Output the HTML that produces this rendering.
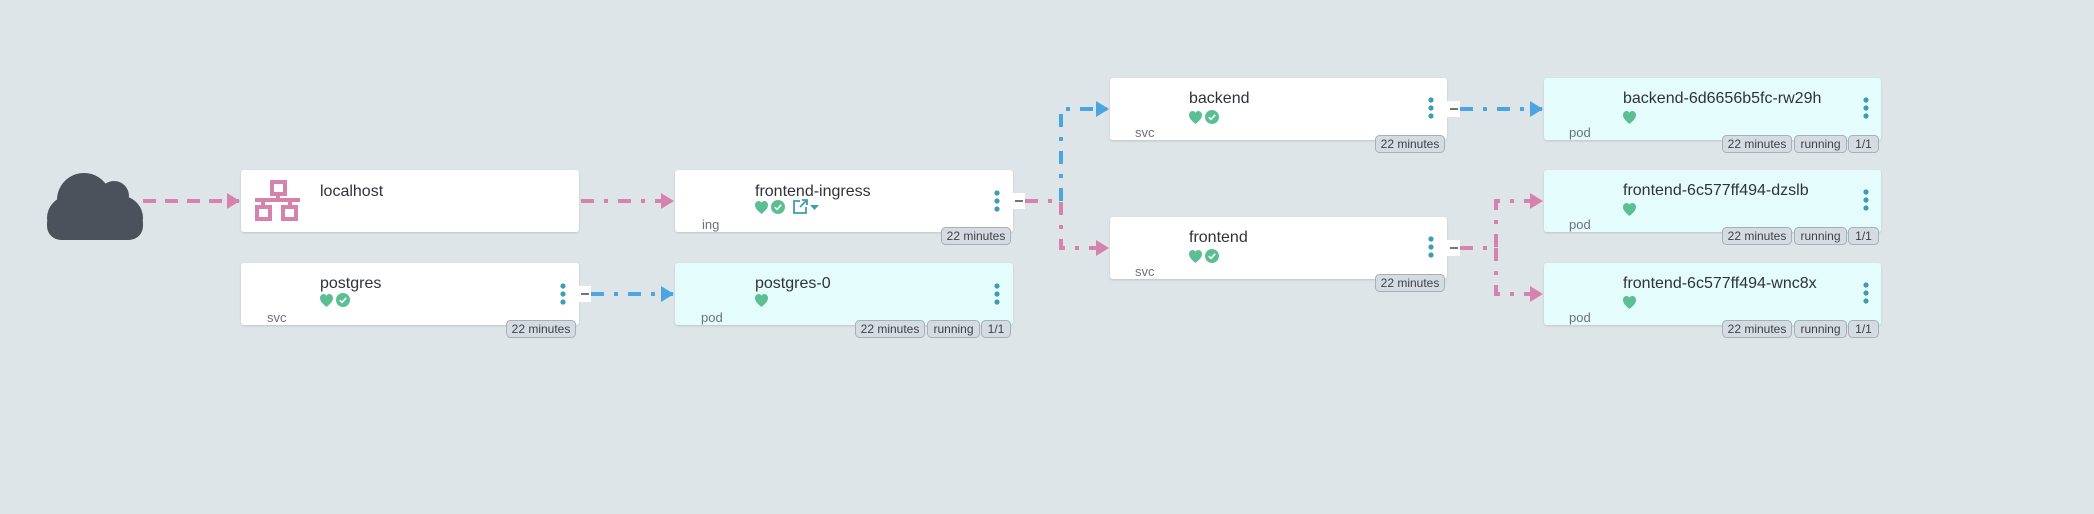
<!DOCTYPE html>
<html><head><meta charset="utf-8"><style>
html,body{margin:0;padding:0;background:#dee5e9;}
svg{display:block;font-family:"Liberation Sans",sans-serif;}
.t{font-size:16px;fill:#2f3338;}
.k{font-size:13px;fill:#6b7278;}
.b{font-size:12px;fill:#3d4248;}
</style></head><body>
<svg width="2094" height="514" viewBox="0 0 2094 514" xmlns="http://www.w3.org/2000/svg">
<defs>
<marker id="ap" markerWidth="13" markerHeight="16" refX="12" refY="8" orient="auto" markerUnits="userSpaceOnUse"><path d="M0,0 L13,8 L0,16 Z" fill="#d583ac"/></marker>
<marker id="ab" markerWidth="13" markerHeight="16" refX="12" refY="8" orient="auto" markerUnits="userSpaceOnUse"><path d="M0,0 L13,8 L0,16 Z" fill="#4aa5e0"/></marker>
<filter id="sh" x="-5%" y="-5%" width="110%" height="120%"><feDropShadow dx="0" dy="1" stdDeviation="1" flood-color="#000" flood-opacity="0.15"/></filter>
<g id="heart"><path d="M6.5,13 C3,10 0,7.5 0,4 C0,1.5 1.8,0 3.6,0 C5,0 6,0.8 6.5,1.8 C7,0.8 8,0 9.4,0 C11.2,0 13,1.5 13,4 C13,7.5 10,10 6.5,13 Z" fill="#5cbf94"/></g>
<g id="chk"><circle cx="7" cy="7" r="7" fill="#5cbf94"/><path d="M3.8,7.2 L6,9.4 L10.2,4.8" stroke="#fff" stroke-width="1.6" fill="none"/></g>
<g id="keb" fill="#3d9db3"><circle cx="0" cy="0" r="2.6"/><circle cx="0" cy="8" r="2.6"/><circle cx="0" cy="16" r="2.6"/></g>
</defs>

<g fill="none" stroke-width="4">
<path d="M143,201 L239,201" stroke="#d583ac" stroke-dasharray="13,9" marker-end="url(#ap)"/>
<path d="M581,201 L673,201" stroke="#d583ac" stroke-dasharray="13,10,4,10" marker-end="url(#ap)"/>
<path d="M1025,201 L1061,201 L1061,248 L1108,248" stroke="#d583ac" stroke-dasharray="13,10,4,10" marker-end="url(#ap)"/>
<path d="M1061,201 L1061,109 L1108,109" stroke="#4aa5e0" stroke-dasharray="13,10,4,10" marker-end="url(#ab)"/>
<path d="M1460,109 L1542,109" stroke="#4aa5e0" stroke-dasharray="13,10,4,10" marker-end="url(#ab)"/>
<path d="M1460,248 L1496,248 L1496,201 L1542,201" stroke="#d583ac" stroke-dasharray="13,10,4,10" marker-end="url(#ap)"/>
<path d="M1496,248 L1496,294 L1542,294" stroke="#d583ac" stroke-dasharray="13,10,4,10" marker-end="url(#ap)"/>
<path d="M591,294 L673,294" stroke="#4aa5e0" stroke-dasharray="13,10,4,10" marker-end="url(#ab)"/>
</g>

<g fill="#4b525b">
<circle cx="84" cy="200" r="27"/><circle cx="114" cy="196" r="15"/>
<rect x="47" y="196" width="96" height="44" rx="22"/>
<rect x="47" y="210" width="96" height="30" rx="14"/>
</g>

<g filter="url(#sh)">
<rect x="241" y="170" width="338" height="62" rx="3" fill="#fff"/>
<rect x="675" y="170" width="338" height="62" rx="3" fill="#fff"/>
<rect x="241" y="263" width="338" height="62" rx="3" fill="#fff"/>
<rect x="675" y="263" width="338" height="62" rx="3" fill="#e4fcfc"/>
<rect x="1110" y="78" width="337" height="62" rx="3" fill="#fff"/>
<rect x="1110" y="217" width="337" height="62" rx="3" fill="#fff"/>
<rect x="1544" y="78" width="337" height="62" rx="3" fill="#e4fcfc"/>
<rect x="1544" y="170" width="337" height="62" rx="3" fill="#e4fcfc"/>
<rect x="1544" y="263" width="337" height="62" rx="3" fill="#e4fcfc"/>
</g>

<g fill="none" stroke="#d583ac" stroke-width="4">
<rect x="272" y="182" width="13" height="12"/>
<path d="M278,194 V200 M255,200 H300 M263,200 V206 M290,200 V206" />
<rect x="257" y="207" width="13" height="12"/>
<rect x="283" y="207" width="13" height="12"/>
</g>

<text class="t" x="320" y="196">localhost</text>
<text class="t" x="755" y="196">frontend-ingress</text>
<use href="#heart" x="755" y="201"/><use href="#chk" x="771" y="200"/>
<g fill="none" stroke="#3d9db3" stroke-width="1.8"><path d="M800,201 H794 V213 H806 V207"/><path d="M800,207 L807,200 M802,200 H807 V205"/></g>
<path d="M810,205 L819,205 L814.5,210 Z" fill="#3d9db3"/>
<text class="k" x="702" y="229">ing</text>
<use href="#keb" x="997" y="193"/>

<text class="t" x="320" y="288">postgres</text>
<use href="#heart" x="320" y="294"/><use href="#chk" x="336" y="293"/>
<text class="k" x="267" y="322">svc</text>
<use href="#keb" x="563" y="286"/>

<text class="t" x="755" y="288">postgres-0</text>
<use href="#heart" x="755" y="294"/>
<text class="k" x="701" y="322">pod</text>
<use href="#keb" x="997" y="286"/>

<text class="t" x="1189" y="103">backend</text>
<use href="#heart" x="1189" y="111"/><use href="#chk" x="1205" y="110"/>
<text class="k" x="1135" y="137">svc</text>
<use href="#keb" x="1431" y="100"/>

<text class="t" x="1189" y="242">frontend</text>
<use href="#heart" x="1189" y="250"/><use href="#chk" x="1205" y="249"/>
<text class="k" x="1135" y="276">svc</text>
<use href="#keb" x="1431" y="239"/>

<text class="t" x="1623" y="103">backend-6d6656b5fc-rw29h</text>
<use href="#heart" x="1623" y="111"/>
<text class="k" x="1569" y="137">pod</text>
<use href="#keb" x="1866" y="100"/>

<text class="t" x="1623" y="195">frontend-6c577ff494-dzslb</text>
<use href="#heart" x="1623" y="203"/>
<text class="k" x="1569" y="229">pod</text>
<use href="#keb" x="1866" y="192"/>

<text class="t" x="1623" y="288">frontend-6c577ff494-wnc8x</text>
<use href="#heart" x="1623" y="296"/>
<text class="k" x="1569" y="322">pod</text>
<use href="#keb" x="1866" y="285"/>

<g fill="#fff"><rect x="1013" y="193" width="12" height="16"/><rect x="579" y="286" width="12" height="16"/><rect x="1447" y="101" width="13" height="16"/><rect x="1447" y="240" width="13" height="16"/></g>
<g stroke="#222" stroke-width="1.3"><path d="M1015,201 H1023 M581,294 H589 M1450,109 H1458 M1450,248 H1458"/></g>

<g fill="#d5dce1" stroke="#a6b0b8" stroke-width="1">
<rect x="941.5" y="227.5" width="69" height="17" rx="4"/>
<rect x="506.5" y="320.5" width="69" height="17" rx="4"/>
<rect x="855.5" y="320.5" width="69" height="17" rx="4"/><rect x="927.5" y="320.5" width="52" height="17" rx="4"/><rect x="981.5" y="320.5" width="29" height="17" rx="4"/>
<rect x="1375.5" y="135.5" width="69" height="17" rx="4"/>
<rect x="1375.5" y="274.5" width="69" height="17" rx="4"/>
<rect x="1722.5" y="135.5" width="69" height="17" rx="4"/><rect x="1794.5" y="135.5" width="52" height="17" rx="4"/><rect x="1848.5" y="135.5" width="30" height="17" rx="4"/>
<rect x="1722.5" y="227.5" width="69" height="17" rx="4"/><rect x="1794.5" y="227.5" width="52" height="17" rx="4"/><rect x="1848.5" y="227.5" width="30" height="17" rx="4"/>
<rect x="1722.5" y="320.5" width="69" height="17" rx="4"/><rect x="1794.5" y="320.5" width="52" height="17" rx="4"/><rect x="1848.5" y="320.5" width="30" height="17" rx="4"/>
</g>
<g class="b" text-anchor="middle">
<text x="976" y="240">22 minutes</text>
<text x="541" y="333">22 minutes</text>
<text x="890" y="333">22 minutes</text><text x="953.5" y="333">running</text><text x="996" y="333">1/1</text>
<text x="1410" y="148">22 minutes</text>
<text x="1410" y="287">22 minutes</text>
<text x="1757" y="148">22 minutes</text><text x="1820.5" y="148">running</text><text x="1863.5" y="148">1/1</text>
<text x="1757" y="240">22 minutes</text><text x="1820.5" y="240">running</text><text x="1863.5" y="240">1/1</text>
<text x="1757" y="333">22 minutes</text><text x="1820.5" y="333">running</text><text x="1863.5" y="333">1/1</text>
</g>
</svg>
</body></html>
